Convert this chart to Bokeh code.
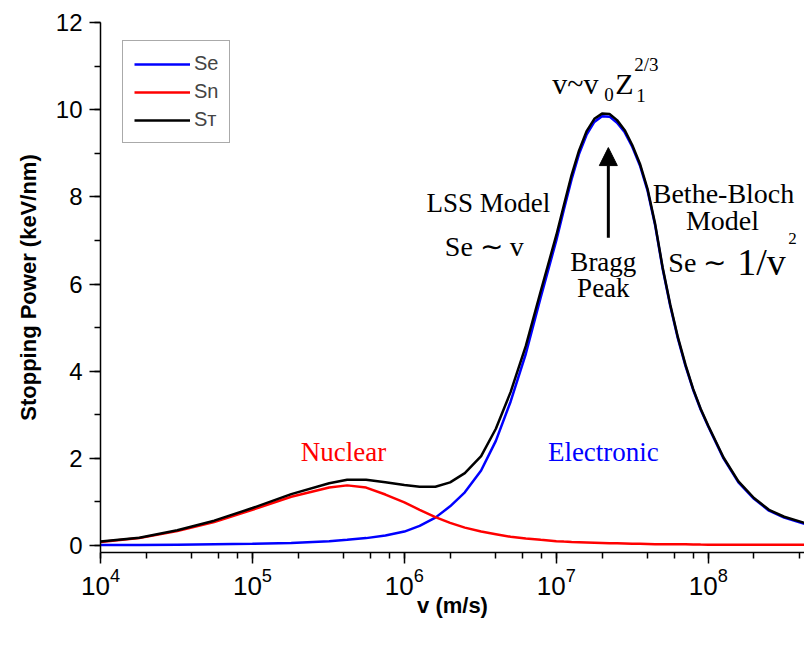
from bokeh.plotting import figure
from bokeh.models import (Legend, LegendItem, Arrow, NormalHead, SingleIntervalTicker,
                          LogTicker, Range1d)
from bokeh.core.properties import value
from bokeh.embed import file_html
from bokeh.resources import INLINE

# ---------------- data ----------------
velocity = [1.0e4, 1.8e4, 3.2e4, 5.6e4, 1.0e5, 1.8e5, 3.2e5, 4.2e5, 5.6e5, 7.5e5,
            1.0e6, 1.26e6, 1.6e6, 2.0e6, 2.5e6, 3.2e6, 4.0e6, 5.0e6, 6.3e6, 7.9e6,
            1.0e7, 1.12e7, 1.26e7, 1.41e7, 1.58e7, 1.78e7, 2.0e7, 2.24e7, 2.51e7, 2.82e7,
            3.16e7, 3.55e7, 3.98e7, 4.47e7, 5.01e7, 5.62e7, 6.31e7, 7.08e7, 7.94e7, 8.91e7,
            1.0e8, 1.26e8, 1.58e8, 2.0e8, 2.51e8, 3.16e8, 4.3e8]

s_nuclear = [0.08, 0.17, 0.33, 0.54, 0.82, 1.12, 1.33, 1.38, 1.33, 1.17,
             0.99, 0.82, 0.65, 0.52, 0.41, 0.32, 0.26, 0.20, 0.16, 0.13,
             0.10, 0.09, 0.08, 0.075, 0.07, 0.065, 0.06, 0.055, 0.05, 0.045,
             0.04, 0.038, 0.035, 0.032, 0.03, 0.03, 0.03, 0.028, 0.025, 0.022,
             0.02, 0.02, 0.02, 0.02, 0.02, 0.02, 0.02]

s_electronic = [0.01, 0.01, 0.02, 0.03, 0.04, 0.06, 0.10, 0.13, 0.17, 0.23,
                0.32, 0.45, 0.64, 0.90, 1.22, 1.72, 2.40, 3.30, 4.40, 5.70,
                7.00, 7.70, 8.40, 8.98, 9.42, 9.72, 9.85, 9.84, 9.70, 9.48,
                9.15, 8.72, 8.15, 7.35, 6.35, 5.50, 4.75, 4.12, 3.58, 3.12,
                2.73, 2.00, 1.45, 1.07, 0.80, 0.64, 0.50]

s_total = [0.09, 0.18, 0.35, 0.57, 0.86, 1.18, 1.43, 1.51, 1.51, 1.45,
           1.39, 1.35, 1.35, 1.45, 1.66, 2.05, 2.68, 3.52, 4.58, 5.84,
           7.12, 7.80, 8.50, 9.06, 9.50, 9.79, 9.91, 9.90, 9.76, 9.53,
           9.19, 8.76, 8.19, 7.38, 6.38, 5.53, 4.78, 4.15, 3.60, 3.14,
           2.75, 2.02, 1.47, 1.09, 0.82, 0.66, 0.52]

legend_labels = ["Se", "Sn", "S\u1d1b"]
y_ticks_interval = 2

# ---------------- figure ----------------
p = figure(width=804, height=646, x_axis_type="log",
           x_range=Range1d(1e4, 4.3e8), y_range=Range1d(-0.16, 12),
           output_backend="svg", toolbar_location=None,
           min_border_left=100, min_border_right=0, min_border_top=22,
           min_border_bottom=94)
p.outline_line_color = None
p.xgrid.visible = False
p.ygrid.visible = False
p.background_fill_color = "white"
p.border_fill_color = "white"

r_e = p.line(velocity, s_electronic, line_color="#0000ff", line_width=2.5)
r_n = p.line(velocity, s_nuclear, line_color="#ff0000", line_width=2.5)
r_t = p.line(velocity, s_total, line_color="black", line_width=2.5)

# axes
p.xaxis.ticker = LogTicker(desired_num_ticks=5)
p.yaxis.ticker = SingleIntervalTicker(interval=y_ticks_interval, num_minor_ticks=2)
for ax in (p.xaxis[0], p.yaxis[0]):
    ax.axis_line_width = 1.5
    ax.axis_line_color = "black"
    ax.major_tick_in = 0
    ax.major_tick_out = 11
    ax.minor_tick_in = 0
    ax.minor_tick_out = 6
    ax.major_tick_line_width = 1.5
    ax.minor_tick_line_width = 1.5
    ax.major_tick_line_color = "black"
    ax.minor_tick_line_color = "black"
    ax.major_label_text_font = "Liberation Sans"
    ax.major_label_text_color = "black"
    ax.axis_label_text_font = "Liberation Sans"
    ax.axis_label_text_font_style = "bold"
    ax.axis_label_text_font_size = "22px"
    ax.axis_label_text_color = "black"

p.yaxis.major_label_text_font_size = "24px"
p.xaxis.major_label_text_font_size = "26px"
p.yaxis.major_label_standoff = 7
p.xaxis.major_label_standoff = 4
p.yaxis.axis_label = "Stopping Power (keV/nm)"
p.xaxis.axis_label = "v (m/s)"
p.yaxis.axis_label_standoff = 12
p.xaxis.axis_label_standoff = -5

# legend
legend = Legend(items=[LegendItem(label=legend_labels[0], renderers=[r_e]),
                       LegendItem(label=legend_labels[1], renderers=[r_n]),
                       LegendItem(label=legend_labels[2], renderers=[r_t])],
                location=(22, 409))
legend.label_text_font = "Liberation Sans"
legend.label_text_font_size = "20px"
legend.glyph_width = 56
legend.glyph_height = 20
legend.label_height = 20
legend.label_standoff = 4
legend.spacing = 5
legend.padding = 11
legend.border_line_color = "#555555"
legend.border_line_width = 1
legend.background_fill_alpha = 1
p.add_layout(legend)

# annotations (text glyphs)
SERIF = "Liberation Serif, serif"
DY = 0.24  # baseline correction


def lab(x, y, t, size, color="black", align="center"):
    p.text(x=[x], y=[y + DY], text=[t], text_font=value(SERIF),
           text_font_size=value(size), text_color=color,
           text_align=align, text_baseline="alphabetic")


lab(3.97e5, 1.90, "Nuclear", "27px", color="#ff0000")
lab(3.57e6, 7.61, "LSS Model", "27px")
lab(3.36e6, 6.61, "Se \u223c v", "28px")
lab(2.04e7, 6.26, "Bragg", "27px")
lab(2.04e7, 5.67, "Peak", "27px")
lab(1.26e8, 7.84, "Bethe-Bloch", "28px")
lab(1.24e8, 7.22, "Model", "28px")
lab(5.46e7, 6.26, "Se \u223c", "28px", align="left")
lab(1.55e8, 6.26, "1/v", "38px", align="left")
lab(3.36e8, 6.80, "2", "17px", align="left")
lab(9.42e6, 10.37, "v~v", "30px", align="left")
lab(2.07e7, 10.11, "0", "19px", align="left")
lab(2.44e7, 10.37, "Z", "30px", align="left")
lab(3.26e7, 10.80, "2/3", "19px", align="left")
lab(3.36e7, 10.09, "1", "19px", align="left")
lab(2.04e7, 1.90, "Electronic", "27px", color="blue")

p.add_layout(Arrow(end=NormalHead(size=18, fill_color="black", line_color="black"),
                   x_start=2.2e7, y_start=7.06, x_end=2.2e7, y_end=9.13,
                   line_width=3, line_color="black"))

open("out.html", "w").write(file_html(p, INLINE))
